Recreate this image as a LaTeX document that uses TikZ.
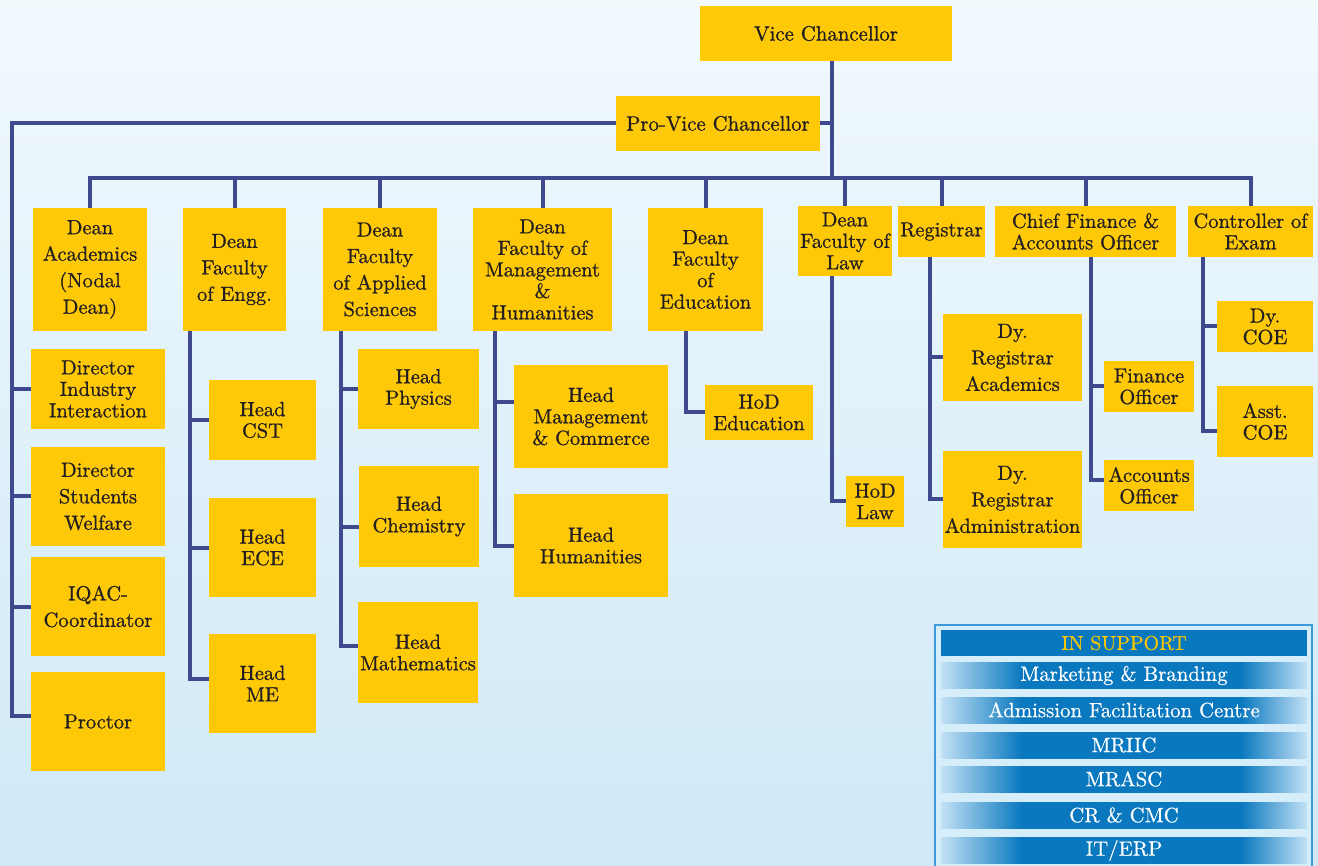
\documentclass[tikz,border=0pt]{standalone}
\usepackage{fontspec}
\newfontfamily\orgfont{lmroman10-regular.otf}[FakeBold=0.9]
\newfontfamily\panelfont{lmroman10-regular.otf}[FakeBold=0.5]

\definecolor{boxgold}{HTML}{FFC907}
\definecolor{linkblue}{HTML}{3F4A8E}
\definecolor{inktext}{HTML}{231F20}
\definecolor{skytop}{HTML}{F1F9FD}
\definecolor{skybot}{HTML}{CFE9F7}
\definecolor{panelfill}{HTML}{D5EEFA}
\definecolor{panelrule}{HTML}{3C9BD8}
\definecolor{rowdark}{HTML}{0A78BF}
\definecolor{rowlight}{HTML}{C2E1F5}
\definecolor{supportgold}{HTML}{F7C600}

\pgfdeclarehorizontalshading{rowfade}{100bp}{color(0bp)=(rowlight); color(25bp)=(rowlight); color(36bp)=(rowdark); color(66bp)=(rowdark); color(75bp)=(rowlight); color(100bp)=(rowlight)}

\begin{document}
\begin{tikzpicture}[
        x=1pt, y=-1pt,
        post/.style={rectangle,fill=boxgold,text=inktext,inner sep=0pt,align=center,font=\orgfont\fontsize{20.5}{21.5}\selectfont},
        loose/.style={font=\orgfont\fontsize{20.5}{26.5}\selectfont},
        chief/.style={font=\orgfont\fontsize{20.8}{24}\selectfont},
        link/.style={draw=linkblue,line width=4pt},
        headbar/.style={rectangle,inner sep=0pt,minimum width=366pt,minimum height=26pt,fill=rowdark,text=supportgold,font=\panelfont\fontsize{20}{22}\selectfont},
        rowbar/.style={rectangle,inner sep=0pt,minimum width=366pt,minimum height=26pt,shading=rowfade,text=white,font=\panelfont\fontsize{20.8}{22}\selectfont}
    ]
        \useasboundingbox (0,0) rectangle (1318,866);
        \shade[top color=skytop,bottom color=skybot] (0,0) rectangle (1318,866);

        % Top offices
        \node[post,chief,minimum width=252pt,minimum height=55pt] (vc) at (826,33.5) {Vice Chancellor};
        \node[post,chief,minimum width=204pt,minimum height=55pt] (pvc) at (718,123.5) {Pro-Vice Chancellor};

        % Deans and officers
        \node[post,loose,minimum width=114pt,minimum height=123pt] (deanacad) at (90,269.5) {Dean\\Academics\\(Nodal\\Dean)};
        \node[post,loose,minimum width=103pt,minimum height=123pt] (engg) at (234.5,269.5) {Dean\\Faculty\\of Engg.};
        \node[post,loose,minimum width=114pt,minimum height=123pt] (applied) at (380,269.5) {Dean\\Faculty\\of Applied\\Sciences};
        \node[post,minimum width=139pt,minimum height=123pt] (mgmt) at (542.5,269.5) {Dean\\Faculty of\\Management\\\&\\Humanities};
        \node[post,minimum width=115pt,minimum height=123pt] (edu) at (705.5,269.5) {Dean\\Faculty\\of\\Education};
        \node[post,minimum width=94pt,minimum height=70pt] (law) at (845,241) {Dean\\Faculty of\\Law};
        \node[post,minimum width=87pt,minimum height=51pt] (reg) at (941.5,231.5) {Registrar};
        \node[post,minimum width=181pt,minimum height=51pt] (cfo) at (1085.5,231.5) {Chief Finance \&\\Accounts Officer};
        \node[post,minimum width=125pt,minimum height=51pt] (coe) at (1250.5,231.5) {Controller of\\Exam};

        % Under Dean Academics
        \node[post,minimum width=134pt,minimum height=80pt] (dii) at (98,389) {Director\\Industry\\Interaction};
        \node[post,loose,minimum width=134pt,minimum height=99pt] (dsw) at (98,496.5) {Director\\Students\\Welfare};
        \node[post,loose,minimum width=134pt,minimum height=99pt] (iqac) at (98,606.5) {IQAC-\\Coordinator};
        \node[post,minimum width=134pt,minimum height=99pt] (proctor) at (98,721.5) {Proctor};

        % Heads of departments
        \node[post,minimum width=107pt,minimum height=80pt] (cst) at (262.5,420) {Head\\CST};
        \node[post,minimum width=107pt,minimum height=99pt] (ece) at (262.5,547.5) {Head\\ECE};
        \node[post,minimum width=107pt,minimum height=99pt] (me) at (262.5,683.5) {Head\\ME};
        \node[post,minimum width=121pt,minimum height=80pt] (phys) at (418.5,389) {Head\\Physics};
        \node[post,minimum width=120pt,minimum height=101pt] (chem) at (419,516.5) {Head\\Chemistry};
        \node[post,minimum width=120pt,minimum height=101pt] (math) at (418,652.5) {Head\\Mathematics};
        \node[post,minimum width=154pt,minimum height=103pt] (mc) at (591,416.5) {Head\\Management\\\& Commerce};
        \node[post,minimum width=154pt,minimum height=103pt] (hum) at (591,545.5) {Head\\Humanities};
        \node[post,minimum width=108pt,minimum height=55pt] (hodedu) at (759,412.5) {HoD\\Education};
        \node[post,minimum width=58pt,minimum height=51pt] (hodlaw) at (875,501.5) {HoD\\Law};

        % Under Registrar, CFAO and COE
        \node[post,loose,minimum width=139pt,minimum height=87pt] (dyrega) at (1012.5,357.5) {Dy.\\Registrar\\Academics};
        \node[post,loose,minimum width=139pt,minimum height=97pt] (dyregb) at (1012.5,499.5) {Dy.\\Registrar\\Administration};
        \node[post,minimum width=90pt,minimum height=51pt] (fin) at (1149,386.5) {Finance\\Officer};
        \node[post,minimum width=90pt,minimum height=51pt] (acc) at (1149,485.5) {Accounts\\Officer};
        \node[post,minimum width=96pt,minimum height=51pt] (dycoe) at (1265,326.5) {Dy.\\COE};
        \node[post,minimum width=96pt,minimum height=71pt] (asstcoe) at (1265,421.5) {Asst.\\COE};

        % Trunk and bus
        \coordinate (bus) at (832,178);
        \coordinate (spine) at (12,124);
        \draw[link] ([xshift=6pt]vc.south) -- (bus);
        \draw[link] (pvc.east) -- (pvc.east -| bus);
        \draw[link] (deanacad.north) |- (coe.north |- bus) -- (coe.north);
        \draw[link] (engg.north) -- (engg.north |- bus);
        \draw[link] (applied.north) -- (applied.north |- bus);
        \draw[link] (mgmt.north) -- (mgmt.north |- bus);
        \draw[link] (edu.north) -- (edu.north |- bus);
        \draw[link] (law.north) -- (law.north |- bus);
        \draw[link] (reg.north) -- (reg.north |- bus);
        \draw[link] (cfo.north) -- (cfo.north |- bus);

        % Left spine
        \coordinate (procjoin) at ([yshift=5.5pt]proctor.west);
        \draw[link] (pvc.west) -| (spine |- procjoin) -- (procjoin);
        \draw[link] (dii.west) -- (dii.west -| spine);
        \draw[link] (dsw.west) -- (dsw.west -| spine);
        \draw[link] (iqac.west) -- (iqac.west -| spine);

        % Faculty stems
        \coordinate (enggstem) at ([xshift=7pt]engg.south west);
        \coordinate (mejoin) at ([yshift=5pt]me.west);
        \draw[link] (enggstem) |- (mejoin);
        \draw[link] (cst.west) -- (cst.west -| enggstem);
        \draw[link] (ece.west) -- (ece.west -| enggstem);

        \coordinate (appstem) at ([xshift=18pt]applied.south west);
        \coordinate (mathjoin) at ([yshift=7pt]math.west);
        \coordinate (chemjoin) at ([yshift=-10pt]chem.west);
        \draw[link] (appstem) |- (mathjoin);
        \draw[link] (phys.west) -- (phys.west -| appstem);
        \draw[link] (chemjoin) -- (chemjoin -| appstem);

        \coordinate (mgmtstem) at ([xshift=22pt]mgmt.south west);
        \coordinate (mcjoin) at ([yshift=14pt]mc.west);
        \draw[link] (mgmtstem) |- (hum.west);
        \draw[link] (mcjoin) -- (mcjoin -| mgmtstem);

        \coordinate (edustem) at ([xshift=38pt]edu.south west);
        \draw[link] (edustem) |- (hodedu.west);

        \coordinate (lawstem) at ([xshift=34pt]law.south west);
        \draw[link] (lawstem) |- (hodlaw.west);

        % Officer stems
        \coordinate (regstem) at ([xshift=32pt]reg.south west);
        \draw[link] (regstem) |- (dyregb.west);
        \draw[link] (dyrega.west) -- (dyrega.west -| regstem);

        \coordinate (cfostem) at ([xshift=96pt]cfo.south west);
        \coordinate (accjoin) at ([yshift=5pt]acc.west);
        \draw[link] (cfostem) |- (accjoin);
        \draw[link] (fin.west) -- (fin.west -| cfostem);

        \coordinate (coestem) at ([xshift=15pt]coe.south west);
        \coordinate (asstjoin) at ([yshift=-9.5pt]asstcoe.west);
        \draw[link] (coestem) |- (asstjoin);
        \draw[link] (dycoe.west) -- (dycoe.west -| coestem);

        % In support panel
        \node[rectangle,draw=panelrule,line width=1.5pt,fill=panelfill,inner sep=0pt,minimum width=377pt,minimum height=250pt] (panel) at (1123.5,750) {};
        \node[headbar] (support) at (1124,643) {IN SUPPORT};
        \node[rowbar] (brand) at (1124,675.5) {Marketing \& Branding};
        \node[rowbar] (admit) at (1124,710) {Admission Facilitation Centre};
        \node[rowbar] (mriic) at (1124,745) {MRIIC};
        \node[rowbar] (mrasc) at (1124,779) {MRASC};
        \node[rowbar] (crcmc) at (1124,815) {CR \& CMC};
        \node[rowbar] (iterp) at (1124,850.5) {IT/ERP};
    \end{tikzpicture}
\end{document}
